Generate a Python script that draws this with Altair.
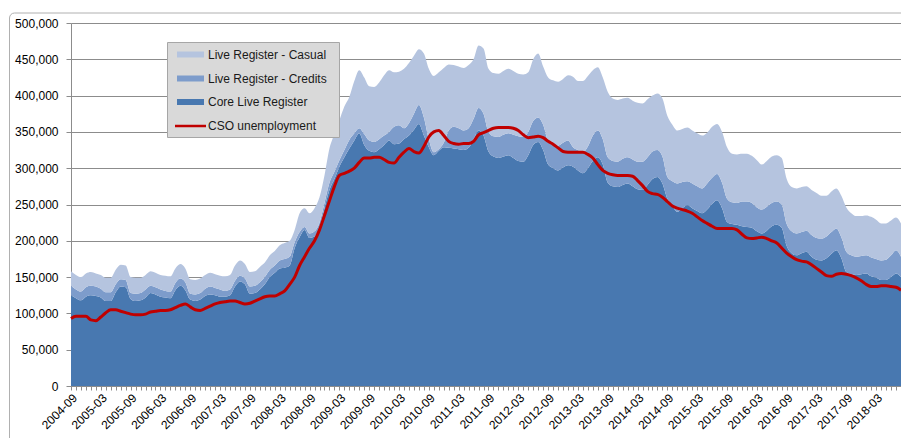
import altair as alt
import pandas as pd

# Months: 2004-09 .. 2018-08
months = pd.date_range("2004-09-01", "2018-08-01", freq="MS").strftime("%Y-%m").tolist()

# Values, in thousands
total_top = [158,153,150,155,
    157,155,153,149,149,160,167,166,150,149,149,153,
    158,156,153,152,151,162,168,162,147,146,148,153,
    156,154,152,151,153,166,173,168,157,158,164,170,
    180,186,194,197,200,215,238,245,238,245,260,290,
    327,347,366,385,398,420,435,425,413,412,418,428,
    435,432,433,437,445,455,464,458,437,427,432,438,
    443,442,440,438,442,450,469,465,437,431,430,434,
    437,434,430,429,432,450,458,440,425,421,419,423,
    428,426,420,420,427,435,439,425,405,396,394,396,
    397,393,390,389,395,400,403,396,372,360,352,354,
    356,352,348,345,349,357,361,350,329,320,319,320,
    320,317,311,305,310,316,318,314,285,274,272,274,
    275,270,266,262,262,268,272,262,246,238,234,234,
    235,233,229,224,224,228,232,224]
credits_top = [138,133,130,136,
    138,137,134,129,129,140,147,146,128,127,128,133,
    138,136,133,131,130,142,148,143,127,126,128,134,
    137,135,133,131,133,145,152,148,137,138,143,150,
    160,166,173,175,178,198,212,219,210,213,225,252,
    280,295,311,325,339,348,355,347,338,336,340,345,
    350,357,359,355,362,375,387,370,340,322,326,335,
    352,357,355,352,355,368,383,375,350,344,343,346,
    348,346,344,343,350,365,370,360,338,333,331,335,
    338,329,325,322,330,345,352,340,315,310,309,313,
    315,312,309,309,315,323,325,316,288,282,279,281,
    282,279,275,272,279,287,292,280,258,253,252,254,
    254,252,246,243,247,252,254,250,223,213,210,212,
    214,208,204,203,206,212,217,205,185,180,178,179,
    180,177,175,173,174,180,187,178]
core = [125,121,118,123,
    125,124,122,117,117,129,137,136,120,117,118,122,
    128,126,123,122,121,132,138,132,119,117,119,124,
    126,125,123,123,125,137,144,140,127,128,133,140,
    150,156,162,163,166,190,205,215,204,206,218,245,
    270,285,302,315,327,338,348,332,324,322,326,332,
    338,333,334,340,345,353,361,345,329,318,324,329,
    328,327,326,325,328,340,352,345,323,316,314,316,
    318,314,310,309,318,332,336,325,305,300,297,301,
    304,302,297,293,300,310,315,305,280,275,274,277,
    279,275,271,270,277,285,288,279,258,248,240,245,
    249,245,241,238,243,251,256,245,226,223,222,220,
    219,218,213,210,214,220,222,218,193,183,180,183,
    185,178,174,173,176,182,187,176,157,154,153,154,
    155,151,149,146,146,150,155,150]
cso = [93,96,96,96,
    91,90,95,101,105,105,103,101,99,98,98,99,
    102,103,104,104,105,108,111,113,109,105,104,107,
    110,113,115,116,117,117,115,113,114,117,120,123,
    124,124,127,131,140,150,166,178,190,200,215,235,
    255,275,290,293,296,300,308,314,314,315,315,312,
    308,307,315,322,327,323,321,330,343,350,352,345,
    337,334,333,334,334,337,346,349,352,355,356,356,
    356,355,352,346,342,343,344,342,337,333,328,323,
    322,322,322,322,319,314,305,297,293,291,290,290,
    290,289,283,276,268,265,264,260,254,248,245,243,
    241,238,233,228,224,220,217,217,217,217,215,209,
    204,203,204,205,203,200,197,190,183,178,174,172,
    171,167,162,157,152,151,154,155,154,152,149,145,
    140,137,137,138,138,137,136,132]

series_names = ["Core Live Register", "Live Register - Credits", "Live Register - Casual"]
series_colors = ["#4878B0", "#7D9CCB", "#B5C4DF"]
cso_color = "#C00000"

rows = []
for i, m in enumerate(months):
    comps = [core[i], credits_top[i] - core[i], total_top[i] - credits_top[i]]
    for k, (name, v) in enumerate(zip(series_names, comps)):
        rows.append({"month": m, "series": name, "ord": k, "value": v * 1000})
df_area = pd.DataFrame(rows)
df_cso = pd.DataFrame({"month": months, "cso": [v * 1000 for v in cso]})

FONT = "Liberation Sans"
GRID = "#8c8c8c"

x_enc = alt.X("month:O", sort=months,
              scale=alt.Scale(type="point", padding=0),
              axis=alt.Axis(title=None, labelAngle=-45, labelAlign="right", labelBaseline="top",
                            labelExpr="(slice(datum.value, 5) == '03' || slice(datum.value, 5) == '09') ? datum.value : ''",
                            labelOverlap=False, labelFontSize=12, labelFont=FONT, labelColor="#000000",
                            tickSize=4, tickColor=GRID, domainColor=GRID, labelPadding=2, grid=False))

y_scale = alt.Scale(domain=[0, 500000], nice=False)
y_enc = alt.Y("value:Q", stack="zero", scale=y_scale,
              axis=alt.Axis(title=None, values=list(range(0, 500001, 50000)), format=",.0f",
                            grid=True, gridColor=GRID, gridWidth=1, domainColor=GRID, tickColor=GRID,
                            tickSize=5, labelPadding=8, labelFontSize=12, labelFont=FONT, labelColor="#000000"))

areas = alt.Chart(df_area).mark_area(interpolate="monotone").encode(
    x=x_enc,
    y=y_enc,
    color=alt.Color("series:N", scale=alt.Scale(domain=series_names, range=series_colors), legend=None),
    order=alt.Order("ord:Q", sort="ascending"),
)

line = alt.Chart(df_cso).mark_line(color=cso_color, strokeWidth=3, interpolate="monotone").encode(
    x=alt.X("month:O", sort=months),
    y=alt.Y("cso:Q", scale=y_scale, axis=None),
)

one = pd.DataFrame({"a": [0]})

border = alt.Chart(one).mark_rect(fill="transparent", stroke="#b0b0b0", strokeWidth=1, cornerRadius=5).encode(
    x=alt.value(-61.5), x2=alt.value(900), y=alt.value(-10), y2=alt.value(480))

legend_box = alt.Chart(one).mark_rect(fill="#d9d9d9", stroke="#a6a6a6", strokeWidth=1).encode(
    x=alt.value(96.5), x2=alt.value(268.5), y=alt.value(19.5), y2=alt.value(114.5))

leg_items = pd.DataFrame({
    "label": ["Live Register - Casual", "Live Register - Credits", "Core Live Register", "CSO unemployment"],
    "color": ["#B5C4DF", "#7D9CCB", "#4878B0", cso_color],
    "ypix": [31.5, 55.5, 79, 103],
})
leg_swatch = alt.Chart(leg_items.iloc[:3]).transform_calculate(
    ytop="datum.ypix - 3", ybot="datum.ypix + 3"
).mark_rect().encode(
    x=alt.value(106), x2=alt.value(133),
    y=alt.Y("ytop:Q", scale=None, axis=None), y2=alt.Y2("ybot:Q"),
    color=alt.Color("color:N", scale=None),
)

leg_line = alt.Chart(leg_items.iloc[3:]).mark_rule(strokeWidth=2.5).encode(
    x=alt.value(104), x2=alt.value(135),
    y=alt.Y("ypix:Q", scale=None, axis=None),
    color=alt.Color("color:N", scale=None),
)

leg_text = alt.Chart(leg_items).mark_text(align="left", baseline="middle", font=FONT, fontSize=12, color="#1a1a1a").encode(
    x=alt.value(137),
    y=alt.Y("ypix:Q", scale=None, axis=None),
    text="label:N",
)

chart = alt.layer(areas, line, border, legend_box, leg_swatch, leg_line, leg_text).resolve_scale(
    color="independent", y="independent"
).properties(
    width=830, height=363,
    padding={"left": 63, "top": 15, "right": 0, "bottom": 52},
    autosize=alt.AutoSizeParams(type="none"),
).configure_view(strokeWidth=0).configure(background="white")

chart.save("out.html", embed_options={"renderer": "svg", "actions": False})
